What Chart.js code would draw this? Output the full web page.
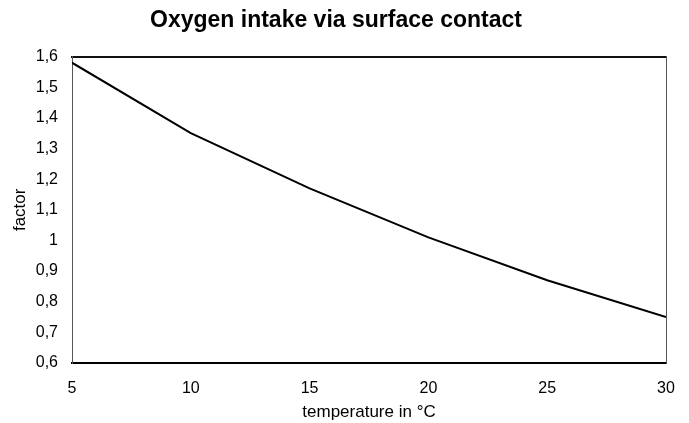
<!DOCTYPE html>
<html>
<head>
<meta charset="utf-8">
<script src="https://cdn.jsdelivr.net/npm/chart.js@4/dist/chart.umd.min.js"></script>
<style>
  html, body { margin: 0; padding: 0; background: #fff; }
  #wrap { width: 689px; height: 423px; }
</style>
</head>
<body>
<div id="wrap"><canvas id="chart" width="689" height="423"></canvas></div>
<script>
// ---- data ----
const temperatures = [5, 10, 15, 20, 25, 30];
const factors = [1.58, 1.35, 1.17, 1.01, 0.87, 0.75];
const xTicks = [5, 10, 15, 20, 25, 30];
const yTicks = [0.6, 0.7, 0.8, 0.9, 1.0, 1.1, 1.2, 1.3, 1.4, 1.5, 1.6];

const FONT = "'Liberation Sans', Arial, Helvetica, sans-serif";

// comma decimals like the original
function fmt(v) {
  const r = Math.round(v * 10) / 10;
  return Number.isInteger(r) ? String(r) : r.toFixed(1).replace('.', ',');
}

const points = temperatures.map((t, i) => ({ x: t, y: factors[i] }));

new Chart(document.getElementById('chart'), {
  type: 'line',
  data: {
    datasets: [{
      data: points,
      borderColor: '#000',
      borderWidth: 2,
      pointRadius: 0,
      tension: 0,
      fill: false
    }]
  },
  options: {
    responsive: false,
    animation: false,
    devicePixelRatio: 1,
    layout: { padding: { left: 6, right: 23, top: 0, bottom: 0 } },
    plugins: {
      legend: { display: false },
      tooltip: { enabled: false },
      title: {
        display: true,
        text: 'Oxygen intake via surface contact',
        color: '#000',
        font: { family: FONT, size: 23, weight: 'bold' },
        padding: { top: 7, bottom: 22 }
      }
    },
    scales: {
      x: {
        type: 'linear',
        min: xTicks[0],
        max: xTicks[xTicks.length - 1],
        afterBuildTicks: s => { s.ticks = xTicks.map(v => ({ value: v })); },
        afterFit: s => { s.height = 60; s.paddingLeft = 0; s.paddingRight = 0; },
        grid: { display: false, drawTicks: false },
        border: { display: true, color: '#000', width: 2 },
        ticks: { color: '#000', font: { family: FONT, size: 16 }, padding: 16, maxRotation: 0 },
        title: {
          display: true,
          text: 'temperature in °C',
          color: '#000',
          font: { family: FONT, size: 17 },
          padding: { top: 4, bottom: 0 }
        }
      },
      xTop: {
        type: 'linear',
        position: 'top',
        min: xTicks[0],
        max: xTicks[xTicks.length - 1],
        grid: { display: false, drawTicks: false },
        border: { display: true, color: '#111', width: 2 },
        ticks: { display: false }
      },
      y: {
        min: yTicks[0],
        max: yTicks[yTicks.length - 1],
        afterBuildTicks: s => { s.ticks = yTicks.map(v => ({ value: v })); },
        afterFit: s => { s.width = 66; },
        grid: { display: false, drawTicks: false },
        border: { display: true, color: '#555', width: 1, dash: [1, 1] },
        ticks: { color: '#000', font: { family: FONT, size: 16 }, padding: 14, callback: v => fmt(v) },
        title: {
          display: true,
          text: 'factor',
          color: '#000',
          font: { family: FONT, size: 17 },
          padding: { top: 4, bottom: 4 }
        }
      },
      yRight: {
        position: 'right',
        min: yTicks[0],
        max: yTicks[yTicks.length - 1],
        afterFit: s => { s.width = 0; },
        grid: { display: false, drawTicks: false },
        border: { display: true, color: '#555', width: 1, dash: [1, 1] },
        ticks: { display: false }
      }
    }
  }
});
</script>
</body>
</html>
